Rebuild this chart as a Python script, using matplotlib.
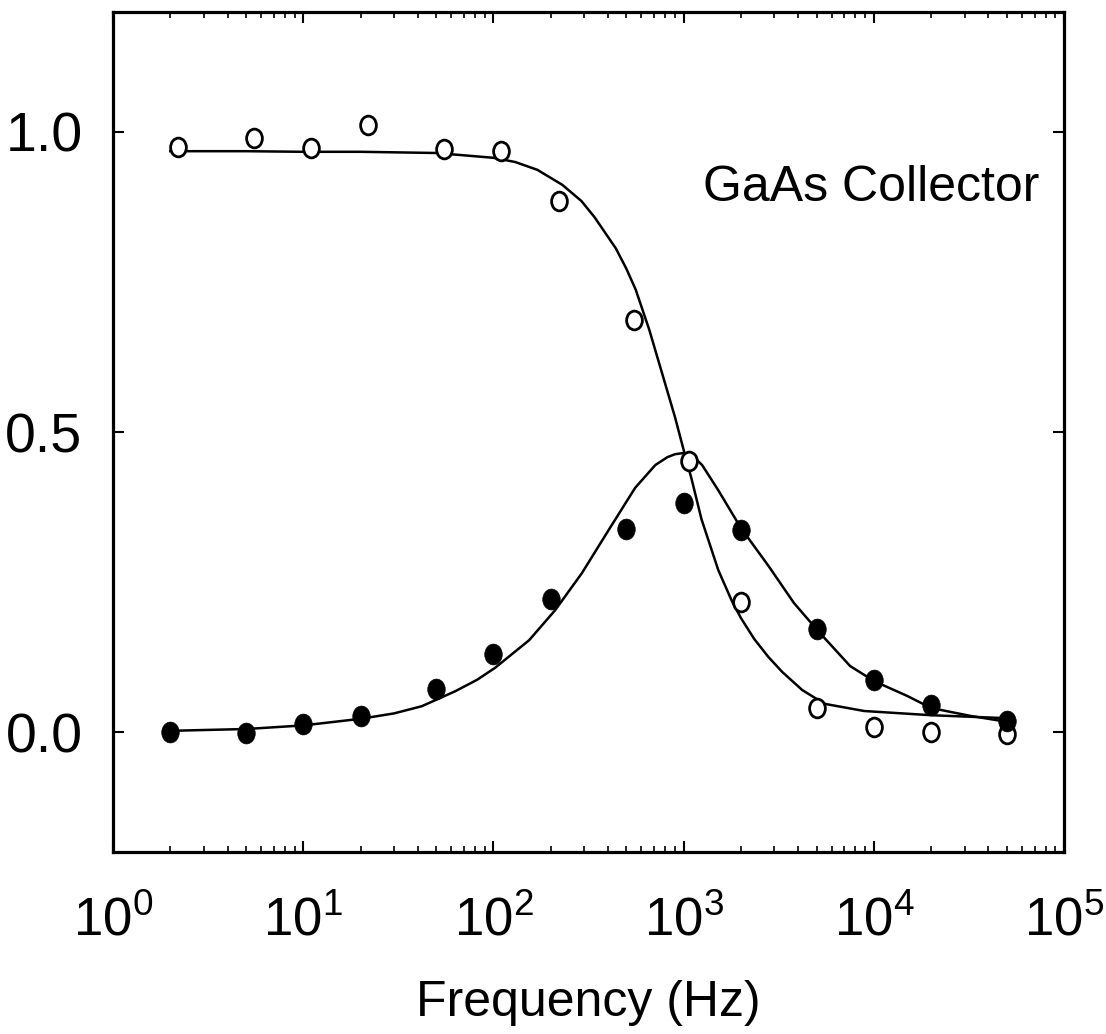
import matplotlib
matplotlib.use("Agg")
import matplotlib.pyplot as plt
from matplotlib.path import Path
from matplotlib.transforms import Affine2D
from matplotlib.ticker import LogLocator, LogFormatterSciNotation, NullLocator

plt.rcParams['font.family'] = ['Liberation Sans', 'DejaVu Sans']

# measured points (open = real part, filled = imaginary part)
open_freq = [2.2, 5.5, 11, 22, 55, 110, 220, 550, 1070, 2000, 5000, 10000, 20000, 50000]
open_vals = [0.975, 0.99, 0.973, 1.012, 0.972, 0.968, 0.885, 0.687, 0.452, 0.217, 0.04, 0.008, 0.0, -0.003]

filled_freq = [2, 5, 10, 20, 50, 100, 200, 500, 1000, 2000, 5000, 10000, 20000, 50000]
filled_vals = [0.0, -0.001, 0.013, 0.027, 0.072, 0.13, 0.222, 0.338, 0.382, 0.337, 0.172, 0.087, 0.045, 0.018]

# fitted curves
fit_a_freq = [2, 5, 10, 20, 50, 100, 130, 170, 230, 290, 340, 440, 500, 560, 660, 770, 900,
              1000, 1100, 1240, 1520, 1800, 2000, 2350, 2790, 3300, 4200, 5500, 8900, 20000, 50000]
fit_a_vals = [0.968, 0.968, 0.967, 0.967, 0.965, 0.957, 0.95, 0.937, 0.912, 0.885, 0.858,
              0.806, 0.772, 0.737, 0.67, 0.598, 0.525, 0.47, 0.422, 0.355, 0.27, 0.217, 0.19,
              0.155, 0.125, 0.1, 0.07, 0.047, 0.035, 0.028, 0.023]

fit_b_freq = [2, 5, 10, 20, 30, 42, 63, 82, 102, 154, 211, 292, 404, 556, 710, 820, 900, 1000,
              1100, 1250, 1520, 2000, 2790, 3800, 5100, 7500, 10000, 15000, 20000, 32000, 50000]
fit_b_vals = [0.002, 0.005, 0.011, 0.022, 0.031, 0.043, 0.068, 0.087, 0.107, 0.153, 0.203,
              0.265, 0.337, 0.407, 0.445, 0.458, 0.463, 0.465, 0.462, 0.445, 0.403, 0.34,
              0.277, 0.215, 0.168, 0.11, 0.085, 0.06, 0.04, 0.027, 0.017]

ytick_vals = [0.0, 0.5, 1.0]
ytick_text = ["0.0", "0.5", "1.0"]

# slightly tall ellipse, like the scanned symbols
ellipse = Path.unit_circle().transformed(Affine2D().scale(0.84, 1.0))

fig = plt.figure(figsize=(11.06, 10.34), dpi=100)
ax = fig.add_axes([0.1022, 0.176, 0.8599, 0.8124])

ax.plot(fit_a_freq, fit_a_vals, color='black', lw=1.8, zorder=2)
ax.plot(fit_b_freq, fit_b_vals, color='black', lw=1.8, zorder=2)
ax.plot(open_freq, open_vals, ls='none', marker=ellipse, ms=13.5, mfc='white',
        mec='black', mew=2.0, zorder=3)
ax.plot(filled_freq, filled_vals, ls='none', marker=ellipse, ms=15, mfc='black',
        mec='black', mew=0.5, zorder=4)

ax.set_xscale('log')
ax.set_xlim(1, 1e5)
ax.set_ylim(-0.2, 1.2)

ax.xaxis.set_major_locator(LogLocator(base=10, numticks=10))
ax.xaxis.set_minor_locator(LogLocator(base=10, subs=range(2, 10), numticks=50))
ax.xaxis.set_major_formatter(LogFormatterSciNotation())
ax.set_yticks(ytick_vals)
ax.set_yticklabels(ytick_text)
ax.yaxis.set_minor_locator(NullLocator())

ax.tick_params(axis='x', which='major', direction='in', top=True, bottom=True,
               length=8, width=1.5, labelsize=38, pad=32)
ax.tick_params(axis='x', which='minor', direction='in', top=True, bottom=True,
               length=4, width=1.2)
ax.tick_params(axis='y', which='major', direction='in', left=True, right=True,
               length=8, width=1.5, labelsize=40, pad=22)

for sp in ax.spines.values():
    sp.set_linewidth(2.3)

ax.set_xlabel("Frequency (Hz)", fontsize=36)
ax.xaxis.set_label_coords(0.5, -0.152)

ax.text(0.62, 0.775, "GaAs Collector", transform=ax.transAxes, fontsize=36,
        va='baseline', ha='left')

fig.savefig("out.png", dpi=100)
